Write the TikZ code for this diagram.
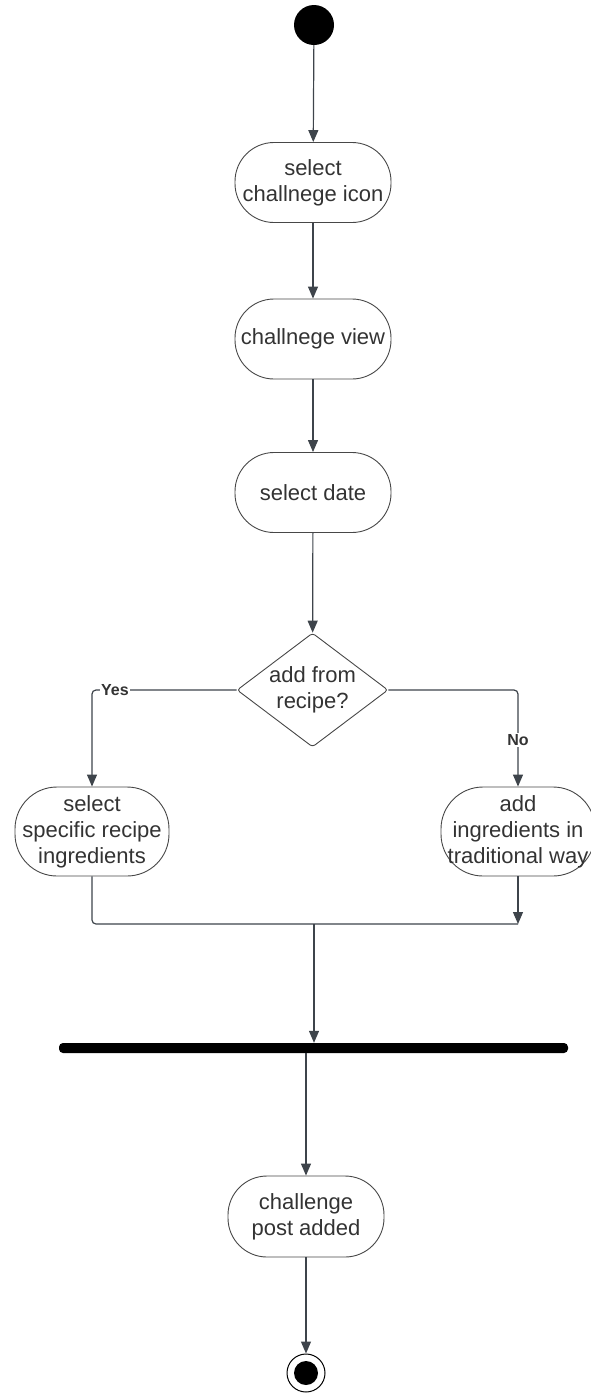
\documentclass[tikz,border=0pt]{standalone}
\usepackage{fontspec}
\setmainfont{Liberation Sans}
\usetikzlibrary{arrows.meta,shapes.geometric}
\definecolor{ink}{HTML}{333333}
\definecolor{wire}{HTML}{3E444B}
\begin{document}
\begin{tikzpicture}[x=1pt,y=-1pt,
  activity/.style={draw=ink!90, line width=0.9pt, rounded corners=39pt,
    minimum width=156pt, minimum height=80pt, align=center, text=ink,
    inner sep=0pt, font=\fontsize{22}{26}\selectfont},
  decision/.style={draw=ink!90, line width=0.9pt, diamond, aspect=1.32,
    minimum width=151pt, minimum height=114pt, rounded corners=3pt,
    align=center, text=ink, inner sep=0pt, font=\fontsize{22}{26}\selectfont},
  flow/.style={draw=wire, line width=1.2pt, -{Triangle[length=12pt,width=10pt]}},
  plain/.style={draw=wire, line width=1.2pt},
  guard/.style={fill=white, text=ink, inner sep=1pt, font=\fontsize{16}{18}\selectfont\bfseries}]
\useasboundingbox (0,0) rectangle (591,1393);

% start and end states
\node (start) [circle, fill=black, minimum size=40pt, inner sep=0pt] at (314,25) {};
\node (stop) [circle, draw=black, line width=1pt, minimum size=38pt, inner sep=0pt] at (306,1373) {};
\node (stopdot) [circle, fill=black, minimum size=24pt, inner sep=0pt] at (306,1373) {};

% activities
\node (icon) [activity] at (313,182.5) {select\\challnege icon};
\node (view) [activity] at (313,339) {challnege view};
\node (date) [activity] at (313,492.5) {select date};
\node (ask) [decision] at (312.5,690) {add from\\recipe?};
\node (recipe) [activity, minimum width=154pt, minimum height=89pt, rounded corners=42pt] at (92,831.5) {select\\specific recipe\\ingredients};
\node (manual) [activity, minimum width=154pt, minimum height=89pt, rounded corners=42pt] at (518,831.5) {add\\ingredients in\\traditional way};
\node (bar) [fill=black, rounded corners=4pt, minimum width=509pt, minimum height=10pt, inner sep=0pt] at (313.5,1048) {};
\node (post) [activity, minimum height=81pt] at (306,1216.5) {challenge\\post added};

% junction below the two branches
\coordinate (join) at (314,924);

% connectors
\draw[flow] (start) -- (icon);
\draw[flow] (icon) -- (view);
\draw[flow] (view) -- (date);
\draw[flow] (date) -- (ask);
\draw[flow, rounded corners=4pt] (ask.west) -| (recipe.north);
\draw[flow, rounded corners=4pt] (ask.east) -| (manual.north);
\node[guard] at (115,690) {Yes};
\node[guard] at (518,740) {No};
\draw[plain, rounded corners=4pt] (recipe.south) |- (join) -- (join -| manual.south);
\draw[flow] (manual.south) -- (join -| manual.south);
\draw[flow] (join) -- (join |- bar.north);
\draw[flow] (bar.south -| post.north) -- (post.north);
\draw[flow] (post) -- (stop);
\end{tikzpicture}
\end{document}
